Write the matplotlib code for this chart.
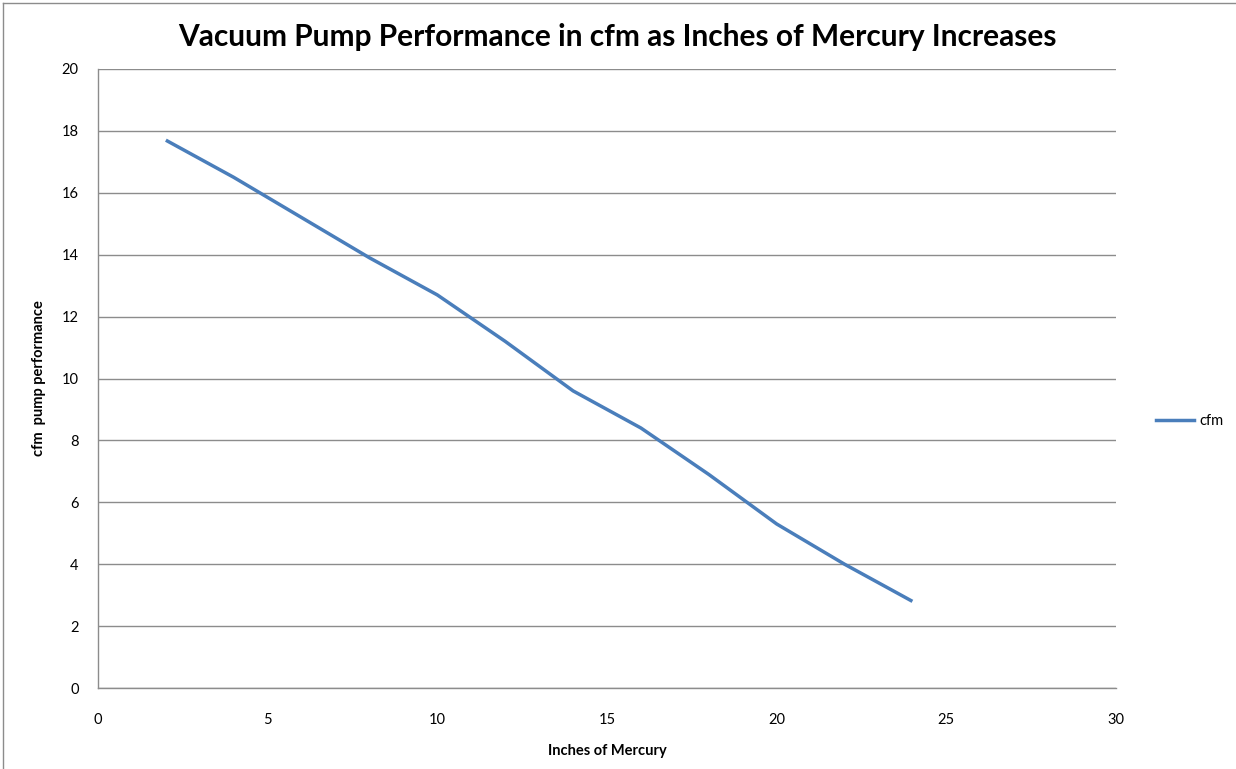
import matplotlib
matplotlib.use("Agg")
import matplotlib.pyplot as plt
from matplotlib.lines import Line2D

inches_hg = [2, 4, 6, 8, 10, 12, 14, 16, 18, 20, 22, 24]
cfm = [17.7, 16.5, 15.2, 13.9, 12.7, 11.2, 9.6, 8.4, 6.9, 5.3, 4.0, 2.8]
x_ticks = [0, 5, 10, 15, 20, 25, 30]
y_ticks = [0, 2, 4, 6, 8, 10, 12, 14, 16, 18, 20]

plt.rcParams['font.family'] = ['Lato', 'DejaVu Sans']

W, H = 1236, 769
fig = plt.figure(figsize=(W / 100, H / 100), dpi=100)
ax = fig.add_axes([98 / W, 1 - 688 / H, (1116 - 98) / W, (688 - 69) / H])

grid_c = '#8c8c8c'
ax.plot(inches_hg, cfm, color='#4A7EBB', lw=2.5, solid_capstyle='butt',
        solid_joinstyle='round', label='cfm', zorder=3)

ax.set_xlim(0, 30)
ax.set_ylim(0, 20)
ax.set_xticks(x_ticks)
ax.set_yticks(y_ticks)
ax.yaxis.grid(True, color=grid_c, lw=1.0)
ax.set_axisbelow(True)
for s in ['top', 'right']:
    ax.spines[s].set_visible(False)
for s in ['left', 'bottom']:
    ax.spines[s].set_color(grid_c)
    ax.spines[s].set_linewidth(1.0)
ax.tick_params(axis='both', length=0, labelsize=10.5, colors='black')
ax.tick_params(axis='x', pad=18)
ax.tick_params(axis='y', pad=14)

ax.set_xlabel('Inches of Mercury', fontsize=10.5, fontweight='bold', labelpad=12)
ax.set_ylabel('cfm  pump performance', fontsize=10.5, fontweight='bold', labelpad=11)

fig.text(617 / W, 1 - 37 / H, 'Vacuum Pump Performance in cfm as Inches of Mercury Increases',
         ha='center', va='center', fontsize=21.5, fontweight='bold')

# legend
leg_handle = Line2D([0], [0], color='#4A7EBB', lw=2.5)
fig.legend([leg_handle], ['cfm'], loc='center left',
           bbox_to_anchor=(1143 / W, 1 - 421 / H), frameon=False,
           fontsize=10.5, handlelength=2.6, handletextpad=0.4)

# chart area border (top and left edges visible)
fig.add_artist(Line2D([3 / W, 1], [1 - 3 / H, 1 - 3 / H], color='#8c8c8c', lw=1.0,
                      transform=fig.transFigure))
fig.add_artist(Line2D([3 / W, 3 / W], [0, 1 - 3 / H], color='#8c8c8c', lw=1.0,
                      transform=fig.transFigure))

fig.savefig('out.png', dpi=100)
